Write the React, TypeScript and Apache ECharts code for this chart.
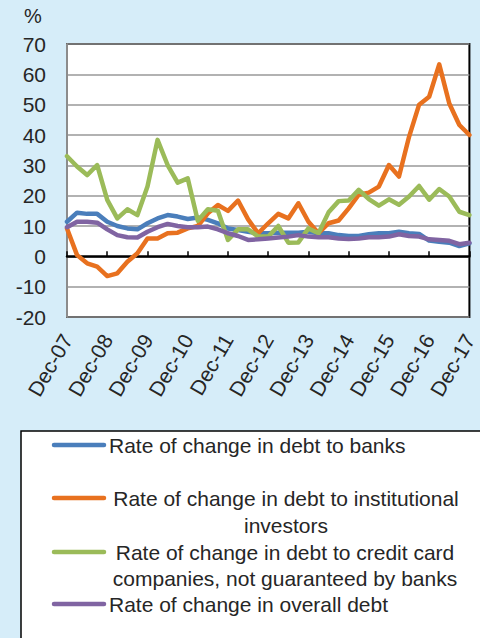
import React, { useEffect, useRef } from "react";
import * as echarts from "echarts";

const categories = [
  "Dec-07", "Mar-08", "Jun-08", "Sep-08", "Dec-08", "Mar-09", "Jun-09", "Sep-09",
  "Dec-09", "Mar-10", "Jun-10", "Sep-10", "Dec-10", "Mar-11", "Jun-11", "Sep-11",
  "Dec-11", "Mar-12", "Jun-12", "Sep-12", "Dec-12", "Mar-13", "Jun-13", "Sep-13",
  "Dec-13", "Mar-14", "Jun-14", "Sep-14", "Dec-14", "Mar-15", "Jun-15", "Sep-15",
  "Dec-15", "Mar-16", "Jun-16", "Sep-16", "Dec-16", "Mar-17", "Jun-17", "Sep-17",
  "Dec-17",
];

const banks = [
  11.4, 14.4, 14, 14, 11.4, 10, 9.2, 8.9, 10.9, 12.5, 13.6, 13.1, 12.3, 12.8, 12,
  10.9, 9.2, 8.7, 8.1, 7.6, 7.6, 7.8, 7.8, 7.8, 8.1, 7.6, 7.6, 7, 6.7, 6.7, 7.3,
  7.6, 7.6, 8.1, 7.6, 7.4, 5.2, 4.8, 4.5, 3.4, 4.3,
];

const institutional = [
  9.2, 0.4, -2.3, -3.4, -6.5, -5.6, -1.8, 1, 5.9, 5.9, 7.6, 7.8, 9.2, 10, 14.2,
  16.9, 15, 18.4, 12.2, 7.6, 10.9, 14, 12.5, 17.5, 11.4, 7.6, 10.9, 11.8, 15.8,
  20.3, 21, 23, 30.1, 26.3, 39.4, 50, 52.6, 63.3, 50.4, 43.3, 40,
];

const creditCard = [
  33, 29.6, 26.8, 30.1, 18.6, 12.5, 15.5, 13.6, 23, 38.4, 30.1, 24.3, 25.7, 11.7,
  15.5, 15, 5.4, 8.9, 8.9, 6.5, 6.5, 10, 4.5, 4.6, 9.2, 7.6, 14.5, 18.2, 18.4,
  21.9, 18.9, 16.7, 18.8, 17, 19.7, 23.2, 18.7, 22.2, 19.7, 14.7, 13.6,
];

const overall = [
  9.6, 11.4, 11.4, 11.1, 8.9, 7, 6.3, 6.2, 8.1, 9.6, 10.7, 10, 9.6, 9.6, 9.8, 8.9,
  7.6, 6.7, 5.4, 5.6, 5.9, 6.2, 6.5, 7, 6.5, 6.3, 6.3, 5.9, 5.7, 5.9, 6.3, 6.3,
  6.5, 7.3, 6.7, 6.5, 5.6, 5.4, 5.1, 4, 4.5,
];

const seriesNames = [
  "Rate of change in debt to banks",
  "Rate of change in debt to institutional investors",
  "Rate of change in debt to credit card companies, not guaranteed by banks",
  "Rate of change in overall debt",
];

const colors = ["#4A7EBB", "#E8711F", "#9BBB59", "#8064A2"];

const FONT = "'Liberation Sans', Arial, sans-serif";
const TEXT = "#262626";

export default function App() {
  const ref = useRef<HTMLDivElement>(null);

  useEffect(() => {
    document.body.style.margin = "0";
    if (!ref.current) return;
    const chart = echarts.init(ref.current, undefined, { renderer: "svg" });
    const dataSets = [banks, institutional, creditCard, overall];

    const legendRows = [445, 498, 552, 604];

    chart.setOption({
      animation: false,
      backgroundColor: "#D6EDF9",
      textStyle: { fontFamily: FONT },
      grid: {
        left: 67,
        top: 44,
        right: 7,
        bottom: 321,
        show: true,
        backgroundColor: "#ffffff",
        borderColor: "#000000",
        borderWidth: 2,
      },
      xAxis: {
        type: "category",
        boundaryGap: false,
        data: categories,
        axisLine: { lineStyle: { color: "#000000", width: 2.5 } },
        axisTick: {
          show: true,
          inside: true,
          length: 5,
          interval: 3,
          lineStyle: { color: "#000000", width: 1.5 },
        },
        axisLabel: {
          interval: 3,
          rotate: 60,
          margin: 19,
          fontSize: 21,
          color: TEXT,
          fontFamily: FONT,
        },
        splitLine: { show: false },
      },
      yAxis: {
        type: "value",
        min: -20,
        max: 70,
        interval: 10,
        axisLine: { show: true, lineStyle: { color: "#8c8c8c", width: 2 } },
        axisTick: { show: false },
        axisLabel: { fontSize: 21, color: TEXT, margin: 21, fontFamily: FONT },
        splitLine: { lineStyle: { color: "#999999", width: 1.5 } },
      },
      series: dataSets.map((d, i) => ({
        name: seriesNames[i],
        type: "line",
        data: d,
        showSymbol: false,
        symbol: "none",
        lineStyle: { color: colors[i], width: 4.5, join: "round", cap: "round" },
        itemStyle: { color: colors[i] },
      })),
      graphic: [
        {
          type: "text",
          x: 33,
          y: 16,
          style: {
            text: "%",
            fill: TEXT,
            fontSize: 20,
            fontFamily: FONT,
            textAlign: "center",
            textVerticalAlign: "middle",
          },
        },
        {
          type: "rect",
          shape: { x: 21, y: 431, width: 480, height: 230 },
          style: { fill: "#ffffff", stroke: "#000000", lineWidth: 1.5 },
        },
        ...legendRows.map((y, i) => ({
          type: "line",
          shape: { x1: 54, y1: y, x2: 104, y2: y },
          style: { stroke: colors[i], lineWidth: 4.5, lineCap: "round" },
        })),
        {
          type: "text",
          x: 109,
          y: legendRows[0],
          style: {
            text: "Rate of change in debt to banks",
            fill: TEXT,
            fontSize: 21,
            fontFamily: FONT,
            textAlign: "left",
            textVerticalAlign: "middle",
          },
        },
        {
          type: "text",
          x: 286,
          y: legendRows[1] - 13.5,
          style: {
            text: "Rate of change in debt to institutional\ninvestors",
            fill: TEXT,
            fontSize: 21,
            lineHeight: 27,
            fontFamily: FONT,
            textAlign: "center",
            textVerticalAlign: "top",
          },
        },
        {
          type: "text",
          x: 285,
          y: legendRows[2] - 13,
          style: {
            text: "Rate of change in debt to credit card\ncompanies, not guaranteed by banks",
            fill: TEXT,
            fontSize: 21,
            lineHeight: 26,
            fontFamily: FONT,
            textAlign: "center",
            textVerticalAlign: "top",
          },
        },
        {
          type: "text",
          x: 109,
          y: legendRows[3],
          style: {
            text: "Rate of change in overall debt",
            fill: TEXT,
            fontSize: 21,
            fontFamily: FONT,
            textAlign: "left",
            textVerticalAlign: "middle",
          },
        },
      ],
    });

    return () => chart.dispose();
  }, []);

  return (
    <div
      ref={ref}
      style={{ position: "fixed", left: 0, top: 0, width: 480, height: 638 }}
    />
  );
}
